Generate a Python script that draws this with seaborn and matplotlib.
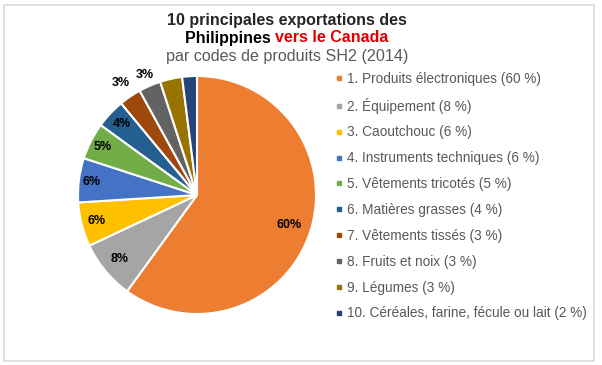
import numpy as np
import matplotlib
matplotlib.use("Agg")
import matplotlib.pyplot as plt
from matplotlib.lines import Line2D
from matplotlib.patches import Rectangle
import seaborn as sns

# data
products = ["1. Produits électroniques (60 %)", "2. Équipement (8 %)",
            "3. Caoutchouc (6 %)", "4. Instruments techniques (6 %)",
            "5. Vêtements tricotés (5 %)", "6. Matières grasses (4 %)",
            "7. Vêtements tissés (3 %)", "8. Fruits et noix (3 %)",
            "9. Légumes (3 %)", "10. Céréales, farine, fécule ou lait (2 %)"]
shares = [60, 8, 6, 6, 5, 4, 3, 3, 3, 2]
pct_labels = ["60%", "8%", "6%", "6%", "5%", "4%", "3%", "3%", "", ""]
colors = ["#ED7D31", "#A5A5A5", "#FFC000", "#4472C4", "#70AD47",
          "#255E91", "#9E480E", "#636363", "#997300", "#264478"]

sns.set_theme(style="white")
plt.rcParams["font.family"] = ["Liberation Sans", "DejaVu Sans"]

W, H = 602, 365
fig = plt.figure(figsize=(W / 100, H / 100), dpi=100)

# chart border
fig.patches.append(Rectangle((3.5 / W, 1 - 360.5 / H), 590 / W, 356 / H,
                             transform=fig.transFigure, fill=False,
                             edgecolor="#D9D9D9", linewidth=1.2))

# pie axes, centre (197,195) px, radius 119 px
cx, cy, r = 197, 195, 119
ax = fig.add_axes([(cx - r) / W, (H - cy - r) / H, 2 * r / W, 2 * r / H])
wedges, _ = ax.pie(shares, startangle=90, counterclock=False,
                   colors=colors,
                   wedgeprops=dict(edgecolor="white", linewidth=1.5))
ax.set_xlim(-1, 1)
ax.set_ylim(-1, 1)
ax.axis("off")

# percentage labels
dists = [0.81, 0.84, 0.87, 0.89, 0.89, 0.87, 1.14, 1.10, 0, 0]
for w, lab, d in zip(wedges, pct_labels, dists):
    if not lab:
        continue
    a = np.deg2rad((w.theta1 + w.theta2) / 2)
    ax.text(d * np.cos(a), d * np.sin(a), lab, ha="center", va="center",
            fontsize=9, fontweight="bold", color="black", clip_on=False)

# title
ts = 11.5
fig.text(287 / W, 1 - 20 / H, "10 principales exportations des",
         ha="center", va="center", fontsize=ts, fontweight="bold")
t1 = fig.text(287 / W, 1 - 38 / H, "Philippines ", ha="right", va="center",
              fontsize=ts, fontweight="bold", color="black")
t2 = fig.text(0, 1 - 38 / H, "vers le Canada", ha="left", va="center",
              fontsize=ts, fontweight="bold", color="#E00000")
fig.canvas.draw()
w1 = t1.get_window_extent().width
w2 = t2.get_window_extent().width
x0 = 287 - (w1 + w2) / 2
t1.set_position(((x0 + w1) / W, 1 - 38 / H))
t2.set_position(((x0 + w1) / W, 1 - 38 / H))
fig.text(287 / W, 1 - 57 / H, "par codes de produits SH2 (2014)",
         ha="center", va="center", fontsize=11.6, color="#595959")

# legend
handles = [Line2D([], [], marker="s", linestyle="", markersize=3.3,
                  color=c) for c in colors]
leg = fig.legend(handles, products, loc="upper left",
                 bbox_to_anchor=(328 / W, 1 - 65 / H), frameon=False,
                 fontsize=9.8, labelcolor="#595959", handlelength=0.55,
                 handletextpad=0.35, labelspacing=0.87, borderpad=0)

fig.savefig("out.png", dpi=100)
